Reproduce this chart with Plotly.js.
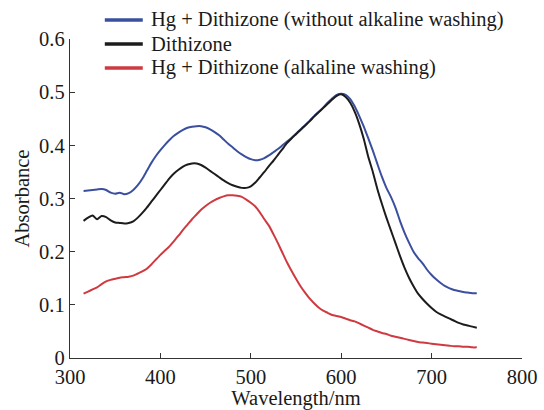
<!DOCTYPE html>
<html>
<head>
<meta charset="utf-8">
<script src="https://cdn.plot.ly/plotly-3.0.1.min.js"></script>
<style>html,body{margin:0;padding:0;background:#fff;}#chart{width:544px;height:410px;}</style>
</head>
<body>
<div id="chart"></div>
<script>
const wavelength = [315,320,325,330,335,340,345,350,355,360,365,370,375,380,385,390,395,400,405,410,415,420,425,430,435,440,445,450,455,460,465,470,475,480,485,490,495,500,505,510,515,520,525,530,535,540,545,550,555,560,565,570,575,580,585,590,595,600,605,610,615,620,625,630,635,640,645,650,655,660,665,670,675,680,685,690,695,700,705,710,715,720,725,730,735,740,745,750];

const hgNoWash = [0.314,0.315,0.316,0.317,0.318,0.316,0.311,0.309,0.311,0.308,0.310,0.316,0.325,0.337,0.352,0.367,0.380,0.391,0.401,0.410,0.418,0.424,0.429,0.433,0.435,0.436,0.436,0.434,0.430,0.425,0.419,0.411,0.403,0.396,0.389,0.383,0.378,0.374,0.372,0.373,0.376,0.381,0.387,0.393,0.400,0.407,0.414,0.422,0.430,0.438,0.446,0.455,0.463,0.471,0.480,0.488,0.495,0.497,0.495,0.487,0.473,0.455,0.435,0.413,0.390,0.365,0.341,0.320,0.303,0.283,0.258,0.236,0.217,0.200,0.188,0.178,0.166,0.156,0.148,0.141,0.135,0.131,0.128,0.126,0.124,0.123,0.122,0.122];

const dithizone = [0.258,0.264,0.268,0.261,0.267,0.265,0.259,0.255,0.254,0.253,0.254,0.257,0.264,0.273,0.283,0.294,0.305,0.316,0.327,0.338,0.347,0.354,0.360,0.364,0.366,0.366,0.363,0.358,0.352,0.346,0.340,0.334,0.329,0.325,0.322,0.320,0.320,0.323,0.330,0.340,0.350,0.361,0.371,0.382,0.393,0.404,0.413,0.421,0.429,0.437,0.445,0.454,0.462,0.470,0.478,0.486,0.493,0.496,0.491,0.480,0.463,0.440,0.412,0.378,0.350,0.318,0.290,0.264,0.240,0.216,0.192,0.170,0.151,0.135,0.121,0.111,0.102,0.094,0.087,0.082,0.078,0.074,0.070,0.066,0.063,0.061,0.059,0.057];

const hgWash = [0.121,0.125,0.129,0.133,0.139,0.144,0.147,0.149,0.151,0.152,0.153,0.155,0.159,0.163,0.168,0.176,0.185,0.194,0.202,0.210,0.220,0.230,0.241,0.251,0.261,0.270,0.279,0.286,0.292,0.297,0.301,0.304,0.306,0.306,0.305,0.303,0.298,0.292,0.285,0.274,0.261,0.249,0.233,0.216,0.198,0.180,0.164,0.149,0.135,0.123,0.112,0.103,0.095,0.089,0.085,0.081,0.079,0.077,0.074,0.071,0.069,0.065,0.061,0.057,0.053,0.050,0.047,0.045,0.042,0.040,0.038,0.036,0.034,0.032,0.030,0.029,0.028,0.027,0.026,0.025,0.024,0.023,0.022,0.022,0.021,0.021,0.020,0.020];

const seriesNames = ["Hg + Dithizone (without alkaline washing)", "Dithizone", "Hg + Dithizone (alkaline washing)"];
const xTicks = [300,400,500,600,700,800];
const yTicks = [0,0.1,0.2,0.3,0.4,0.5,0.6];
const yTickText = ["0","0.1","0.2","0.3","0.4","0.5","0.6"];

const font = "Liberation Serif, Times New Roman, serif";
const colors = ["#3a4f9e", "#1c1c1c", "#cf3a40"];
const ys = [hgNoWash, dithizone, hgWash];

const traces = ys.map((y, i) => ({
  x: wavelength, y: y, name: seriesNames[i], type: "scatter", mode: "lines",
  line: {color: colors[i], width: 2, shape: "spline", smoothing: 0.6}
}));

// manual legend (paper coordinates)
const legX0 = 0.077, legX1 = 0.161, legTextX = 0.175;
const legRowsY = [1.0596, 0.9843, 0.9091];
const shapes = seriesNames.map((n, i) => ({
  type: "line", xref: "paper", yref: "paper", x0: legX0, x1: legX1, y0: legRowsY[i], y1: legRowsY[i],
  line: {color: colors[i], width: 3.5}
}));
const annotations = seriesNames.map((n, i) => ({
  xref: "paper", yref: "paper", x: legTextX, y: legRowsY[i], xanchor: "left", yanchor: "middle",
  text: n, showarrow: false, font: {family: font, size: 20.5, color: "#1a1a1a"}
}));

const layout = {
  width: 544, height: 410,
  margin: {l: 70, r: 22, t: 39, b: 52},
  paper_bgcolor: "#fff", plot_bgcolor: "#fff",
  font: {family: font, size: 20.5, color: "#1a1a1a"},
  showlegend: false,
  shapes: shapes, annotations: annotations,
  xaxis: {range: [300, 800], tickvals: xTicks, ticks: "inside", ticklen: 5, tickwidth: 1.2, tickcolor: "#333",
          showline: true, linecolor: "#333", linewidth: 1.2, showgrid: false, zeroline: false,
          title: {text: "Wavelength/nm", font: {family: font, size: 20.5}, standoff: 2},
          tickfont: {family: font, size: 20.5}},
  yaxis: {range: [0, 0.6], tickvals: yTicks, ticktext: yTickText, ticks: "inside", ticklen: 5, tickwidth: 1.2, tickcolor: "#333",
          showline: true, linecolor: "#333", linewidth: 1.2, showgrid: false, zeroline: false,
          title: {text: "Absorbance", font: {family: font, size: 20.5}, standoff: 4},
          tickfont: {family: font, size: 20.5}}
};

Plotly.newPlot("chart", traces, layout, {displayModeBar: false, staticPlot: true});
</script>
</body>
</html>
